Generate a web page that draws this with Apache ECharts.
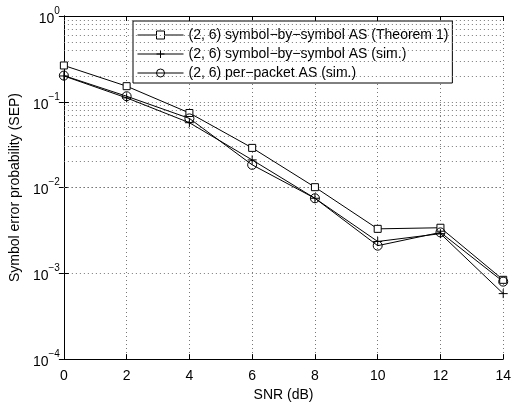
<!DOCTYPE html>
<html>
<head>
<meta charset="utf-8">
<script src="https://cdn.jsdelivr.net/npm/echarts@6/dist/echarts.min.js"></script>
<style>html,body{margin:0;padding:0;background:#fff}#c{width:514px;height:407px}</style>
</head>
<body>
<div id="c"></div>
<script>
const snr = [0, 2, 4, 6, 8, 10, 12, 14];
const sepTheorem = [0.265, 0.152, 0.074, 0.029, 0.0101, 0.0033, 0.0034, 0.00084];
const sepSymbolSim = [0.200, 0.111, 0.057, 0.021, 0.0075, 0.00235, 0.0029, 0.00058];
const sepPacketSim = [0.202, 0.116, 0.064, 0.0184, 0.0075, 0.0021, 0.0030, 0.0008];
const seriesNames = [
  '(2, 6) symbol\u2212by\u2212symbol AS (Theorem 1)',
  '(2, 6) symbol\u2212by\u2212symbol AS (sim.)',
  '(2, 6) per\u2212packet AS (sim.)'
];
const xTitle = 'SNR (dB)';
const yTitle = 'Symbol error probability (SEP)';

const minorVals = [];
for (let e = -4; e <= -1; e++) for (let k = 2; k <= 9; k++) minorVals.push(k * Math.pow(10, e));

const font = 'Liberation Sans, Arial, Helvetica, sans-serif';
const pair = a => snr.map((x, i) => [x, a[i]]);
const plusPath = 'path://M0,5L10,5M5,0L5,10';

const gridStyle = { type: [1, 3], color: '#777', width: 1 };
const lineBase = (name, data, symbol, size, fill) => ({
  name, type: 'line', data: pair(data), symbol, symbolSize: size,
  showSymbol: true, animation: false,
  lineStyle: { color: '#000', width: 1 },
  itemStyle: { color: fill, borderColor: '#000', borderWidth: 1 },
  z: 5
});

const chart = echarts.init(document.getElementById('c'));
chart.setOption({
  animation: false,
  backgroundColor: '#fff',
  textStyle: { fontFamily: font },
  grid: { left: 61, right: 6, top: 16, bottom: 40 },
  legend: {
    data: seriesNames,
    orient: 'vertical', left: 133, top: 21,
    backgroundColor: '#fff', borderColor: '#000', borderWidth: 1,
    padding: [7, 4, 3, 4], itemGap: 5, itemWidth: 46, itemHeight: 10,
    lineStyle: { width: 1, color: '#000' },
    itemStyle: { borderWidth: 1, borderColor: '#000' },
    textStyle: { fontSize: 14, color: '#000', fontFamily: font }
  },
  xAxis: [{
    type: 'value', min: 0, max: 14, interval: 2,
    name: xTitle, nameLocation: 'middle', nameGap: 28,
    nameTextStyle: { fontSize: 14, color: '#000' },
    axisLine: { lineStyle: { color: '#000', width: 1 } },
    axisTick: { inside: true, length: 5, lineStyle: { color: '#000' } },
    axisLabel: { fontSize: 14, color: '#000', margin: 10 },
    splitLine: { show: true, lineStyle: gridStyle }
  }, {
    type: 'value', min: 0, max: 14, interval: 2, position: 'top',
    axisLine: { show: true, lineStyle: { color: '#000', width: 1 } },
    axisTick: { show: true, inside: true, length: 5, lineStyle: { color: '#000' } },
    axisLabel: { show: false }, splitLine: { show: false }
  }],
  yAxis: [{
    type: 'log', logBase: 10, min: 1e-4, max: 1, splitNumber: 4,
    name: yTitle, nameLocation: 'middle', nameGap: 37,
    nameTextStyle: { fontSize: 14, color: '#000' },
    axisLine: { show: true, lineStyle: { color: '#000', width: 1 } },
    axisTick: { show: true, inside: true, length: 5, lineStyle: { color: '#000' } },
    axisLabel: {
      color: '#000', margin: 4,
      formatter: v => {
        const e = Math.round(Math.log10(v));
        return '{b|10}{s|' + (e < 0 ? '\u2212' + (-e) : e) + '}';
      },
      rich: {
        b: { fontSize: 14, color: '#000', fontFamily: font, lineHeight: 20, verticalAlign: 'bottom' },
        s: { fontSize: 10, color: '#000', fontFamily: font, lineHeight: 20, verticalAlign: 'top' }
      }
    },
    splitLine: { show: true, lineStyle: gridStyle }
  }, {
    type: 'log', logBase: 10, min: 1e-4, max: 1, splitNumber: 4, position: 'right',
    axisLine: { show: true, lineStyle: { color: '#000', width: 1 } },
    axisTick: { show: true, inside: true, length: 5, lineStyle: { color: '#000' } },
    axisLabel: { show: false }, splitLine: { show: false }
  }],
  series: [
    {
      name: 'minor-grid', type: 'line', data: [], silent: true,
      markLine: {
        silent: true, symbol: 'none', label: { show: false }, animation: false,
        lineStyle: gridStyle,
        data: minorVals.map(v => ({ yAxis: v }))
      }
    },
    lineBase(seriesNames[0], sepTheorem, 'rect', 7, '#fff'),
    lineBase(seriesNames[1], sepSymbolSim, plusPath, 9, 'none'),
    lineBase(seriesNames[2], sepPacketSim, 'circle', 9, 'none')
  ]
});
</script>
</body>
</html>
